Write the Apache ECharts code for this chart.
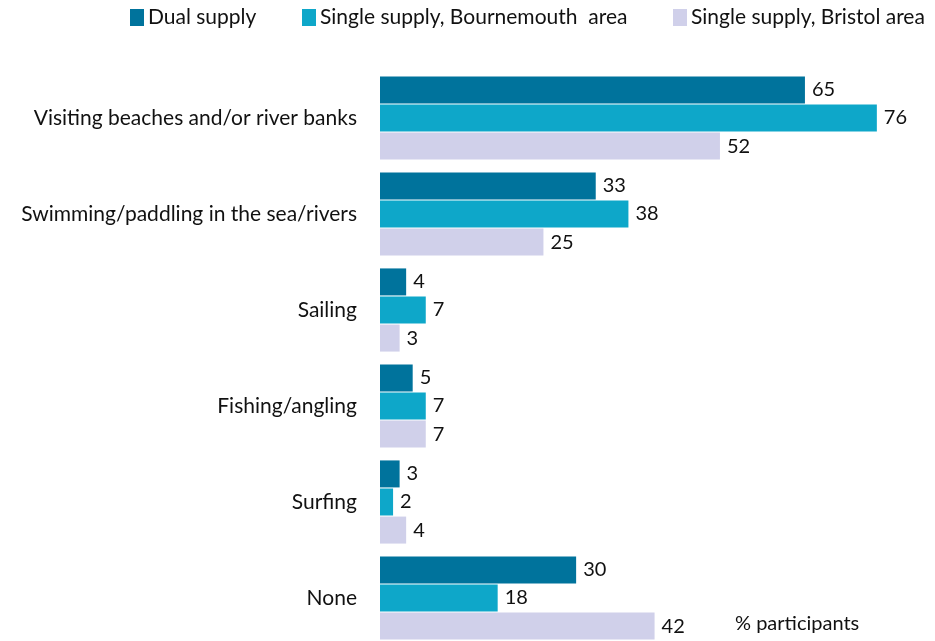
<!DOCTYPE html>
<html>
<head>
<meta charset="utf-8">
<script src="https://cdn.jsdelivr.net/npm/echarts@6/dist/echarts.min.js"></script>
<style>
  html, body { margin: 0; padding: 0; background: #fff; overflow: hidden; }
  #chart { width: 935px; height: 646px; }
</style>
</head>
<body>
<div id="chart"></div>
<script>
  const categories = [
    'Visiting beaches and/or river banks',
    'Swimming/paddling in the sea/rivers',
    'Sailing',
    'Fishing/angling',
    'Surfing',
    'None',
  ];
  const seriesNames = ['Dual supply', 'Single supply, Bournemouth  area', 'Single supply, Bristol area'];
  const dualSupply = [65, 33, 4, 5, 3, 30];
  const bournemouth = [76, 38, 7, 7, 2, 18];
  const bristol = [52, 25, 3, 7, 4, 42];
  const colors = ['#00739c', '#0ea7c9', '#d0d0ea'];

  const font = 'Lato, "Open Sans", sans-serif';
  const chart = echarts.init(document.getElementById('chart'));

  const makeSeries = (name, data, color) => ({
    name: name,
    type: 'bar',
    data: data,
    barWidth: 27,
    barGap: '4%',
    itemStyle: { color: color },
    label: {
      show: true,
      position: 'right',
      distance: 7,
      color: '#111',
      fontSize: 20,
      fontFamily: font,
    },
  });

  const legendAt = (name, left) => ({
    data: [name],
    top: 7,
    left: left,
    padding: 0,
    icon: 'rect',
    itemWidth: 14,
    itemHeight: 17,
    itemGap: 0,
    textStyle: { fontSize: 21, fontFamily: font, color: '#111', padding: [0, 0, 0, -1] },
  });

  const option = {
    animation: false,
    legend: [
      legendAt(seriesNames[0], 130),
      legendAt(seriesNames[1], 302),
      legendAt(seriesNames[2], 673),
    ],
    grid: { left: 380, top: 70, width: 523, height: 576 },
    xAxis: {
      type: 'value',
      min: 0,
      max: 80,
      show: false,
    },
    yAxis: {
      type: 'category',
      data: categories,
      inverse: true,
      axisLine: { show: false },
      axisTick: { show: false },
      axisLabel: { fontSize: 21, fontFamily: font, color: '#111', margin: 23 },
    },
    graphic: [
      {
        type: 'text',
        left: 735,
        top: 614,
        style: { text: '% participants', fontSize: 20, fontFamily: font, fill: '#111' },
      },
    ],
    series: [
      makeSeries(seriesNames[0], dualSupply, colors[0]),
      makeSeries(seriesNames[1], bournemouth, colors[1]),
      makeSeries(seriesNames[2], bristol, colors[2]),
    ],
  };

  chart.setOption(option);
</script>
</body>
</html>
